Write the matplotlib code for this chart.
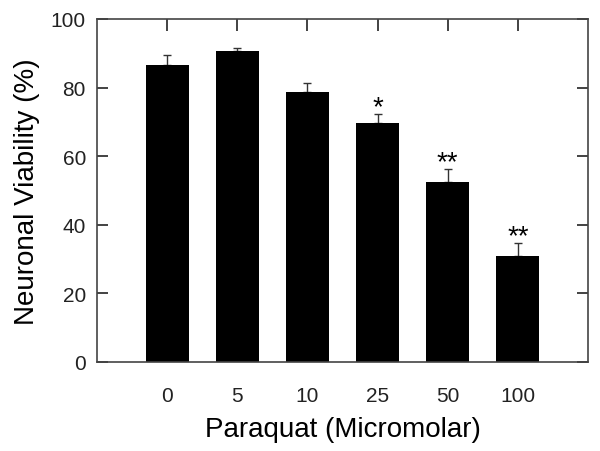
import matplotlib
matplotlib.use("Agg")
import matplotlib.pyplot as plt
import numpy as np

plt.rcParams['font.family'] = ['Liberation Sans', 'DejaVu Sans']

# data
doses = ["0", "5", "10", "25", "50", "100"]
viability = [86.7, 90.6, 78.6, 69.7, 52.4, 31.0]
err = [2.8, 1.0, 2.7, 2.7, 4.0, 3.8]
signif = ["", "", "", "*", "**", "**"]

fig = plt.figure(figsize=(6.0, 4.52), dpi=100)
ax = fig.add_axes([97 / 600, 1 - 363 / 452, 491 / 600, 343 / 452])

x = np.arange(len(doses))
ax.bar(x, viability, width=0.61, color='black', zorder=2)
ax.errorbar(x, viability, yerr=[np.zeros(len(err)), err], fmt='none',
            ecolor='#333333', elinewidth=1.0, capsize=3, capthick=1.0, zorder=1)

# significance marks above the error bars
for xi, v, e, s in zip(x, viability, err, signif):
    if s:
        ax.text(xi, v + e - 0.3, s, ha='center', va='baseline', fontsize=20)

ax.set_xlim(-1, len(doses))
ax.set_ylim(0, 100)
ax.set_yticks([0, 20, 40, 60, 80, 100])
ax.set_xticks(x)
ax.set_xticklabels(doses)

ax.tick_params(axis='y', direction='in', length=8, width=1.2, labelsize=15,
               right=True, pad=8, colors='#222222')
ax.tick_params(axis='x', direction='in', length=8.5, width=1.2, labelsize=15,
               bottom=False, top=True, pad=17, colors='#222222')

for sp in ax.spines.values():
    sp.set_linewidth(1.2)
    sp.set_color('#444444')

ax.set_xlabel("Paraquat (Micromolar)", fontsize=20, labelpad=8)
ax.set_ylabel("Neuronal Viability (%)", fontsize=20, labelpad=8)

fig.savefig("out.png", dpi=100)
